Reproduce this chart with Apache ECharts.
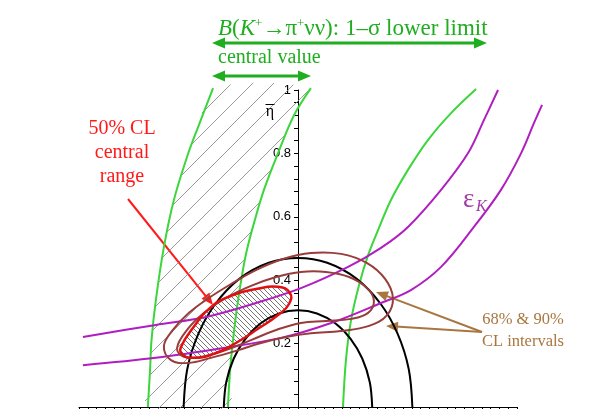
<!DOCTYPE html>
<html>
<head>
<meta charset="utf-8">
<script src="https://cdn.jsdelivr.net/npm/echarts@6/dist/echarts.min.js"></script>
<style>
  html, body { margin: 0; background: #fff; }
  #chart { width: 599px; height: 409px; }
</style>
</head>
<body>
<div id="chart"></div>
<script>
// curves, points are [rho, eta]
const kpnnLeft = [[-0.617, 0], [-0.608, 0.117], [-0.602, 0.211], [-0.584, 0.338], [-0.551, 0.505], [-0.510, 0.653], [-0.452, 0.798], [-0.407, 0.89], [-0.349, 1.006]]
const kpnnCentral = [[-0.288, 0], [-0.279, 0.117], [-0.267, 0.211], [-0.251, 0.312], [-0.230, 0.416], [-0.210, 0.495], [-0.181, 0.580], [-0.140, 0.685], [-0.082, 0.801], [-0.016, 0.921], [0.053, 1.006]]
const kpnnLower = [[0.185, 0], [0.197, 0.148], [0.218, 0.274], [0.251, 0.385], [0.288, 0.479], [0.329, 0.558], [0.382, 0.653], [0.452, 0.748], [0.534, 0.842], [0.629, 0.927], [0.732, 1.003]]
const rbOuter = [[-0.47, 0], [-0.455, 0.12], [-0.41, 0.23], [-0.34, 0.325], [-0.24, 0.405], [-0.12, 0.455], [0, 0.47], [0.12, 0.455], [0.24, 0.405], [0.34, 0.325], [0.41, 0.23], [0.455, 0.12], [0.47, 0]]
const rbInner = [[-0.305, 0], [-0.295, 0.078], [-0.264, 0.153], [-0.216, 0.215], [-0.153, 0.264], [-0.078, 0.295], [0, 0.305], [0.078, 0.295], [0.153, 0.264], [0.216, 0.215], [0.264, 0.153], [0.295, 0.078], [0.305, 0]]
const epsKUpper = [[-0.884, 0.221], [-0.584, 0.259], [-0.378, 0.284], [-0.173, 0.328], [0.012, 0.375], [0.206, 0.442], [0.341, 0.502], [0.452, 0.568], [0.588, 0.685], [0.699, 0.801], [0.764, 0.905], [0.822, 1.0]]
const epsKLower = [[-0.884, 0.132], [-0.584, 0.155], [-0.308, 0.186], [-0.070, 0.218], [0.136, 0.265], [0.341, 0.328], [0.464, 0.369], [0.588, 0.442], [0.723, 0.568], [0.834, 0.685], [0.917, 0.801], [0.970, 0.896], [1.003, 0.953]]
const cl90 = [[-0.551, 0.192], [-0.514, 0.243], [-0.448, 0.297], [-0.366, 0.344], [-0.275, 0.388], [-0.173, 0.432], [-0.062, 0.467], [0.053, 0.486], [0.177, 0.483], [0.284, 0.454], [0.358, 0.404], [0.390, 0.344], [0.366, 0.290], [0.292, 0.256], [0.177, 0.240], [0.053, 0.233], [-0.049, 0.221], [-0.152, 0.202], [-0.255, 0.177], [-0.358, 0.155], [-0.452, 0.139], [-0.522, 0.148]]
const cl68 = [[-0.497, 0.186], [-0.456, 0.243], [-0.386, 0.297], [-0.296, 0.344], [-0.193, 0.382], [-0.090, 0.410], [0.012, 0.426], [0.115, 0.426], [0.210, 0.410], [0.284, 0.375], [0.312, 0.334], [0.288, 0.297], [0.218, 0.278], [0.115, 0.271], [0.012, 0.265], [-0.090, 0.243], [-0.193, 0.211], [-0.296, 0.180], [-0.399, 0.158], [-0.469, 0.158]]
const central50 = [[-0.481, 0.189], [-0.432, 0.249], [-0.358, 0.315], [-0.267, 0.353], [-0.173, 0.372], [-0.082, 0.379], [-0.033, 0.360], [-0.037, 0.325], [-0.082, 0.290], [-0.160, 0.249], [-0.255, 0.202], [-0.349, 0.167], [-0.432, 0.155], [-0.477, 0.167]]
const etaLabels = [0.2, 0.4, 0.6, 0.8, 1]

const green = '#3cd63c'
const greenText = '#1fae1f'
const magenta = '#b01ec0'
const brown = '#983c3c'
const serif = '"Liberation Serif", "DejaVu Serif", serif'

function hatch (size, dir, color, width, bg) {
  const c = document.createElement('canvas')
  c.width = c.height = size
  const ctx = c.getContext('2d')
  if (bg) { ctx.fillStyle = bg; ctx.fillRect(0, 0, size, size) }
  ctx.strokeStyle = color
  ctx.lineWidth = width
  ctx.beginPath()
  if (dir === '/') {
    ctx.moveTo(0, size); ctx.lineTo(size, 0)
    ctx.moveTo(-1, 1); ctx.lineTo(1, -1)
    ctx.moveTo(size - 1, size + 1); ctx.lineTo(size + 1, size - 1)
  } else {
    ctx.moveTo(0, 0); ctx.lineTo(size, size)
    ctx.moveTo(-1, size - 1); ctx.lineTo(1, size + 1)
    ctx.moveTo(size - 1, -1); ctx.lineTo(size + 1, 1)
  }
  ctx.stroke()
  return { image: c, repeat: 'repeat' }
}

// one shape per series, placed with the axes through api.coord
function shape (points, closed, style, z, smooth) {
  return {
    type: 'custom', clip: false, silent: true, z,
    data: [[0, 0]],
    renderItem: (params, api) => ({
      type: closed ? 'polygon' : 'polyline',
      shape: { points: points.map(p => api.coord(p)), smooth: smooth },
      style: Object.assign({ fill: 'none' }, style)
    })
  }
}
const curve = (data, color, z) => shape(data, false, { stroke: color, lineWidth: 2 }, z, 0.35)

function arrow (x1, y1, x2, y2, color, w, head, both) {
  const a = Math.atan2(y2 - y1, x2 - x1)
  const tip = (x, y, ang) => ({
    type: 'polygon',
    shape: {
      points: [[x, y],
        [x - head * Math.cos(ang) + head * 0.42 * Math.sin(ang), y - head * Math.sin(ang) - head * 0.42 * Math.cos(ang)],
        [x - head * Math.cos(ang) - head * 0.42 * Math.sin(ang), y - head * Math.sin(ang) + head * 0.42 * Math.cos(ang)]]
    },
    style: { fill: color }
  })
  const cut = head * 0.8
  const sx = both ? x1 + cut * Math.cos(a) : x1
  const sy = both ? y1 + cut * Math.sin(a) : y1
  const children = [
    { type: 'line', shape: { x1: sx, y1: sy, x2: x2 - cut * Math.cos(a), y2: y2 - cut * Math.sin(a) }, style: { stroke: color, lineWidth: w } },
    tip(x2, y2, a)
  ]
  if (both) children.push(tip(x1, y1, a + Math.PI))
  return { type: 'group', children }
}

const chart = echarts.init(document.getElementById('chart'))
chart.setOption({
  animation: false,
  grid: { left: 79, right: 82, top: 90, bottom: 2 },
  xAxis: {
    type: 'value', min: -0.9, max: 0.9, interval: 0.036,
    axisLine: { lineStyle: { color: '#000', width: 1 } },
    axisTick: { length: 3, lineStyle: { color: '#000' } },
    axisLabel: { show: false },
    splitLine: { show: false }
  },
  yAxis: {
    type: 'value', min: 0, max: 1, interval: 0.04, offset: -219,
    axisLine: { onZero: false, lineStyle: { color: '#000', width: 1 } },
    axisTick: { length: 4, lineStyle: { color: '#000' } },
    axisLabel: {
      margin: 7, color: '#000', fontSize: 13, fontFamily: '"Liberation Sans", Arial, sans-serif',
      formatter: v => {
        const hit = etaLabels.find(t => Math.abs(t - v) < 1e-6)
        return hit === undefined ? '' : (hit === 1 ? '1' : hit.toFixed(1))
      }
    },
    splitLine: { show: false }
  },
  series: [
    shape(kpnnLeft.concat(kpnnCentral.slice().reverse()), true, { fill: hatch(21, '/', '#808080', 0.8) }, 1, 0.3),
    shape(central50, true, { fill: hatch(5, '\\', '#505050', 0.8, '#fff') }, 2, 0.5),
    curve(kpnnLeft, green, 3),
    curve(kpnnCentral, green, 3),
    curve(kpnnLower, green, 3),
    curve(rbOuter, '#000', 4),
    curve(rbInner, '#000', 4),
    curve(epsKUpper, magenta, 5),
    curve(epsKLower, magenta, 5),
    shape(cl90, true, { stroke: brown, lineWidth: 2 }, 6, 0.4),
    shape(cl68, true, { stroke: brown, lineWidth: 2 }, 6, 0.4),
    shape(central50, true, { stroke: '#e01010', lineWidth: 2.5 }, 7, 0.5)
  ],
  graphic: [
    {
      type: 'text', x: 218, y: 29, z: 10,
      style: {
        text: '{i|B}({i|K}{s|+}→π{s|+}νν): 1–σ lower limit',
        fontSize: 23, fontFamily: serif, fill: greenText, verticalAlign: 'middle',
        rich: {
          i: { fontStyle: 'italic', fontSize: 23, fontFamily: serif, fill: greenText },
          s: { fontSize: 13, fontFamily: serif, fill: greenText, verticalAlign: 'top' }
        }
      }
    },
    arrow(212, 43, 487, 43, greenText, 3, 13, true),
    {
      type: 'text', x: 218, y: 58, z: 10,
      style: { text: 'central value', fontSize: 20, fontFamily: serif, fill: greenText, verticalAlign: 'middle' }
    },
    arrow(212, 76, 311, 76, greenText, 3, 13, true),
    {
      type: 'text', x: 270, y: 112, z: 10,
      style: { text: 'η', fontSize: 16, fontFamily: serif, fill: '#000', align: 'center', verticalAlign: 'middle' }
    },
    { type: 'line', z: 10, shape: { x1: 265.5, y1: 104.5, x2: 274.5, y2: 104.5 }, style: { stroke: '#000', lineWidth: 1 } },
    {
      type: 'text', x: 122, y: 153, z: 10,
      style: { text: '50% CL\ncentral\nrange', fontSize: 20, lineHeight: 24, fontFamily: serif, fill: '#ff1a1a', align: 'center', verticalAlign: 'middle' }
    },
    arrow(128, 199, 213, 305, '#ff1a1a', 2, 12, false),
    {
      type: 'text', x: 463, y: 200, z: 10,
      style: { text: 'ε', fontSize: 27, fontFamily: serif, fill: '#a13ca6', verticalAlign: 'middle' }
    },
    {
      type: 'text', x: 476, y: 207, z: 10,
      style: { text: 'K', fontSize: 16, fontStyle: 'italic', fontFamily: serif, fill: '#a13ca6', verticalAlign: 'middle' }
    },
    {
      type: 'text', x: 523, y: 331, z: 10,
      style: { text: '68% & 90%\nCL intervals', fontSize: 16.5, lineHeight: 22, fontFamily: serif, fill: '#a8763f', align: 'center', verticalAlign: 'middle' }
    },
    arrow(482, 332, 376, 292, '#a8763f', 2, 12, false),
    arrow(482, 332, 386, 326, '#a8763f', 2, 12, false)
  ]
})
</script>
</body>
</html>
